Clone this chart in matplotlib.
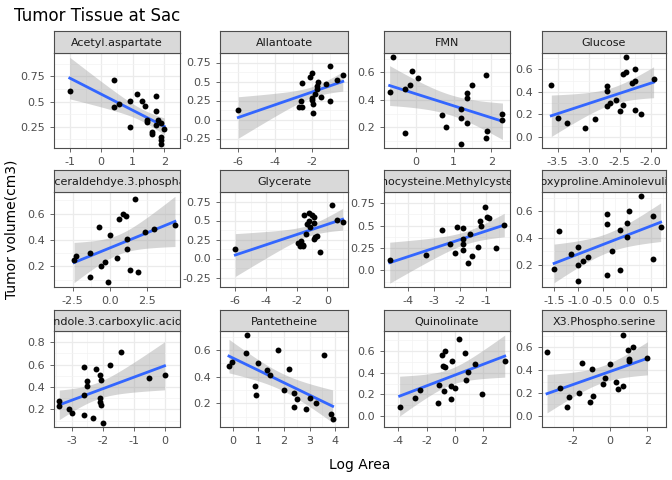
import numpy as np
import matplotlib
matplotlib.use("Agg")
import matplotlib.pyplot as plt

names = ["Acetyl.aspartate", "Allantoate", "FMN", "Glucose",
         "Glyceraldehdye.3.phosphate", "Glycerate", "Homocysteine.Methylcysteine",
         "Hydroxyproline.Aminolevulinate", "Indole.3.carboxylic.acid",
         "Pantetheine", "Quinolinate", "X3.Phospho.serine"]

acetyl = [(-1, .61), (.42, .71), (.42, .45), (.55, .48), (.9, .51), (.9, .25), (1.15, .58),
          (1.3, .51), (1.4, .46), (1.45, .3), (1.45, .32), (1.6, .18), (1.6, .2), (1.75, .56),
          (1.75, .41), (1.75, .27), (1.9, .29), (1.9, .15), (1.9, .12), (1.9, .08), (2.0, .23), (1.8, .32)]
allantoate = [(-6, .12), (-2.6, .24), (-2.5, .48), (-2.7, .17), (-2.5, .16), (-2.1, .56), (-2.0, .61),
              (-2.0, .26), (-1.9, .08), (-1.9, .2), (-1.8, .33), (-1.7, .44), (-1.65, .5), (-1.7, .4),
              (-1.5, .3), (-1.2, .47), (-1.0, .71), (-1.0, .25), (-0.6, .52), (-0.3, .58), (-2.0, .28)]
fmn = [(-.7, .46), (-.6, .71), (-.3, .48), (-.3, .16), (-.15, .51), (-.1, .61), (.05, .56), (.7, .29),
       (.8, .2), (1.2, .33), (1.2, .27), (1.2, .08), (1.35, .45), (1.35, .41), (1.35, .23), (1.5, .51),
       (1.85, .58), (1.85, .12), (1.9, .17), (2.3, .3), (2.3, .25)]
glucose = [(-3.6, .46), (-3.5, .17), (-3.35, .12), (-3.05, .08), (-2.9, .16), (-2.7, .45), (-2.7, .41),
           (-2.7, .27), (-2.65, .3), (-2.55, .33), (-2.5, .23), (-2.45, .56), (-2.45, .28), (-2.4, .71),
           (-2.4, .58), (-2.3, .48), (-2.25, .6), (-2.25, .5), (-2.25, .24), (-2.15, .2), (-1.95, .51)]
glyceraldehyde = [(-2.4, .25), (-2.3, .28), (-1.3, .12), (-1.3, .3), (-.7, .5), (-.6, .2), (-.3, .23),
                  (-.1, .08), (0, .44), (.5, .26), (.6, .56), (.9, .6), (1.1, .58), (1.2, .33), (1.2, .41),
                  (1.4, .17), (1.7, .71), (1.9, .16), (2.4, .46), (3.0, .48), (4.4, .51)]
glycerate = [(-6, .12), (-1.9, .2), (-1.8, .17), (-1.7, .23), (-1.6, .18), (-1.5, .57), (-1.4, .32),
             (-1.3, .45), (-1.2, .6), (-1.2, .5), (-1.1, .42), (-1.0, .57), (-.9, .55), (-.9, .47),
             (-.8, .28), (-.85, .26), (-.7, .3), (-.5, .08), (.3, .71), (.6, .51), (1.0, .48), (-1.6, .16)]
homocysteine = [(-4.7, .12), (-3.3, .17), (-2.7, .45), (-2.4, .29), (-2.2, .2), (-2.1, .48), (-1.9, .47),
                (-1.9, .3), (-1.9, .23), (-1.9, .35), (-1.7, .08), (-1.6, .41), (-1.55, .16), (-1.3, .26),
                (-1.25, .55), (-1.2, .5), (-1.05, .71), (-.95, .6), (-.9, .58), (-.6, .25), (-.3, .51)]
hydroxyproline = [(-1.5, .17), (-1.4, .45), (-1.15, .28), (-1.0, .33), (-1.0, .2), (-1.0, .08), (-.9, .23),
                  (-.8, .26), (-.4, .58), (-.4, .5), (-.4, .12), (-.3, .3), (-.15, .46), (-.15, .16),
                  (0, .51), (0, .41), (.05, .6), (.3, .71), (.55, .56), (.55, .24), (.7, .48)]
indole = [(-3.4, .28), (-3.4, .23), (-3.1, .2), (-3.0, .17), (-2.6, .58), (-2.6, .33), (-2.6, .15),
          (-2.5, .45), (-2.5, .41), (-2.3, .12), (-2.2, .56), (-2.1, .51), (-2.1, .3), (-2.1, .27),
          (-2.05, .46), (-2.05, .24), (-2.0, .08), (-1.75, .6), (-1.4, .71), (-.5, .48), (0, .51)]
pantetheine = [(-.15, .48), (-.05, .51), (.5, .58), (.55, .71), (.85, .33), (.9, .26), (1.0, .5),
               (1.35, .45), (1.45, .41), (1.75, .6), (2.0, .3), (2.2, .46), (2.4, .28), (2.4, .17),
               (2.5, .23), (2.85, .16), (3.0, .24), (3.25, .2), (3.55, .56), (3.85, .12), (3.9, .08)]
quinolinate = [(-3.9, .08), (-2.8, .17), (-2.5, .24), (-1.2, .12), (-1.1, .29), (-.9, .56), (-.85, .46),
               (-.8, .23), (-.7, .6), (-.7, .45), (-.3, .28), (-.3, .16), (-.2, .51), (0, .26), (.3, .71),
               (.7, .58), (.8, .33), (.9, .41), (1.4, .48), (1.9, .2), (3.5, .51)]
phosphoserine = [(-3.4, .56), (-2.7, .24), (-2.3, .08), (-2.2, .16), (-1.7, .2), (-1.5, .46), (-1.1, .12),
                 (-1.0, .41), (-.9, .17), (-.4, .28), (-.3, .33), (0, .45), (.3, .3), (.4, .23), (.7, .71),
                 (.7, .26), (.95, .58), (1.0, .5), (1.0, .48), (1.2, .6), (2.0, .51)]
panel_data = [acetyl, allantoate, fmn, glucose, glyceraldehyde, glycerate, homocysteine,
              hydroxyproline, indole, pantetheine, quinolinate, phosphoserine]

xticks = [[-1, 0, 1, 2], [-6, -4, -2], [0, 1, 2], [-3.5, -3.0, -2.5, -2.0],
          [-2.5, 0.0, 2.5], [-6, -4, -2, 0], [-4, -3, -2, -1], [-1.5, -1.0, -0.5, 0.0, 0.5],
          [-3, -2, -1, 0], [0, 1, 2, 3, 4], [-4, -2, 0, 2], [-2, 0, 2]]
yticks = [[0.25, 0.50, 0.75], [-0.25, 0.00, 0.25, 0.50, 0.75], [0.2, 0.4, 0.6], [0.0, 0.2, 0.4, 0.6],
          [0.2, 0.4, 0.6], [-0.25, 0.00, 0.25, 0.50, 0.75], [0.00, 0.25, 0.50, 0.75], [0.2, 0.4, 0.6],
          [0.2, 0.4, 0.6, 0.8], [0.2, 0.4, 0.6], [0.0, 0.2, 0.4, 0.6], [0.0, 0.2, 0.4, 0.6]]

W, H = 672, 480
cols = [(54, 180), (220, 348), (384, 510), (542, 666)]
rows = [(31, 53, 148), (170, 192, 287), (310, 331, 427)]

fig = plt.figure(figsize=(6.72, 4.8), dpi=100)
grey = "#4D4D4D"

for i, (name, pts) in enumerate(zip(names, panel_data)):
    r, c = divmod(i, 4)
    x0, x1 = cols[c]
    s0, p0, p1 = rows[r]
    ax = fig.add_axes([x0 / W, 1 - p1 / H, (x1 - x0) / W, (p1 - p0) / H])
    sx = fig.add_axes([x0 / W, 1 - p0 / H, (x1 - x0) / W, (p0 - s0) / H])

    x = np.array([p[0] for p in pts])
    y = np.array([p[1] for p in pts])
    n = len(x)
    b, a = np.polyfit(x, y, 1)
    xs = np.linspace(x.min(), x.max(), 80)
    fit = a + b * xs
    resid = y - (a + b * x)
    s = np.sqrt(np.sum(resid ** 2) / (n - 2))
    se = s * np.sqrt(1 / n + (xs - x.mean()) ** 2 / np.sum((x - x.mean()) ** 2))
    t = 2.09
    ax.fill_between(xs, fit - t * se, fit + t * se, color="#999999", alpha=0.4, lw=0, zorder=2)
    ax.plot(xs, fit, color="#3366FF", lw=2, zorder=3)
    ax.scatter(x, y, s=18, color="black", zorder=4, lw=0)

    xr = x.max() - x.min()
    ax.set_xlim(x.min() - 0.05 * xr, x.max() + 0.05 * xr)
    ylo = min(y.min(), (fit - t * se).min())
    yhi = max(y.max(), (fit + t * se).max())
    yr = yhi - ylo
    ylo, yhi = ylo - 0.05 * yr, yhi + 0.05 * yr
    yt = [v for v in yticks[i] if ylo - 0.02 <= v <= yhi + 0.02]
    ax.set_ylim(min(ylo, yt[0]), max(yhi, yt[-1]))

    xt = xticks[i]
    ax.set_xticks(xt)
    ax.set_yticks(yt)
    ax.set_xticklabels([f"{v:g}" if isinstance(v, int) else f"{v:.1f}" for v in xt])
    ax.set_yticklabels([f"{v:.2f}" if len(str(v)) > 3 else f"{v:.1f}" for v in yt])
    ax.set_xticks([(xt[k] + xt[k + 1]) / 2 for k in range(len(xt) - 1)] +
                  [xt[0] - (xt[1] - xt[0]) / 2, xt[-1] + (xt[1] - xt[0]) / 2], minor=True)
    ax.set_yticks([(yt[k] + yt[k + 1]) / 2 for k in range(len(yt) - 1)] +
                  [yt[0] - (yt[1] - yt[0]) / 2, yt[-1] + (yt[1] - yt[0]) / 2], minor=True)
    ax.grid(True, which="major", color="#EBEBEB", lw=0.9)
    ax.grid(True, which="minor", color="#F3F3F3", lw=0.5)
    ax.set_axisbelow(True)
    ax.tick_params(which="major", labelsize=8, colors=grey, labelcolor=grey, length=3, width=0.6)
    ax.tick_params(which="minor", length=0)
    for sp in ax.spines.values():
        sp.set_color(grey)
        sp.set_linewidth(0.8)

    sx.set_facecolor("#D9D9D9")
    sx.set_xticks([])
    sx.set_yticks([])
    for sp in sx.spines.values():
        sp.set_color(grey)
        sp.set_linewidth(0.8)
    sx.text(0.5, 0.45, name, ha="center", va="center", fontsize=8, color="#1A1A1A",
            transform=sx.transAxes, clip_on=True)

fig.text(14 / W, 1 - 16 / H, "Tumor Tissue at Sac", fontsize=12, va="center", ha="left")
fig.text(360 / W, 1 - 465 / H, "Log Area", fontsize=10, ha="center", va="center")
fig.text(12 / W, 1 - 229 / H, "Tumor volume(cm3)", fontsize=10, rotation=90, ha="center", va="center")

fig.savefig("out.png", dpi=100)
